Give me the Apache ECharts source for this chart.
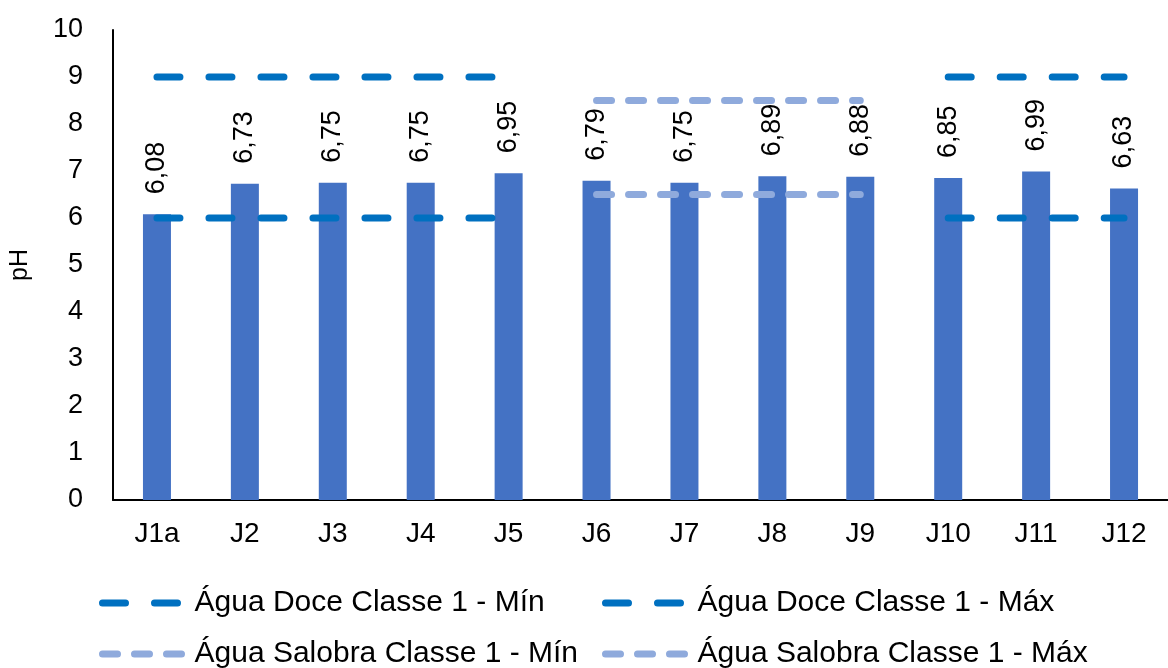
<!DOCTYPE html>
<html>
<head>
<meta charset="utf-8">
<script src="https://cdn.jsdelivr.net/npm/echarts@6/dist/echarts.min.js"></script>
<style>
  html, body { margin: 0; padding: 0; background: #fff; }
  #main { width: 1168px; height: 668px; }
</style>
</head>
<body>
<div id="main"></div>
<script>
// pontos de coleta
var pontos = ["J1a", "J2", "J3", "J4", "J5", "J6", "J7", "J8", "J9", "J10", "J11", "J12"];
// pH medido
var ph = [6.08, 6.73, 6.75, 6.75, 6.95, 6.79, 6.75, 6.89, 6.88, 6.85, 6.99, 6.63];
// limites CONAMA
var doceMin = [6, 6, 6, 6, 6, null, null, null, null, 6, 6, 6];
var doceMax = [9, 9, 9, 9, 9, null, null, null, null, 9, 9, 9];
var salobraMin = [null, null, null, null, null, 6.5, 6.5, 6.5, 6.5, null, null, null];
var salobraMax = [null, null, null, null, null, 8.5, 8.5, 8.5, 8.5, null, null, null];
var nomes = ["Água Doce Classe 1 - Mín", "Água Doce Classe 1 - Máx", "Água Salobra Classe 1 - Mín", "Água Salobra Classe 1 - Máx"];

var fonte = "Liberation Sans, Arial, sans-serif";
var azulDoce = "#0070C0";
var azulSalobra = "#8FAADC";

var estiloDoce = { color: azulDoce, width: 7, type: [23, 29], cap: "round" };
var estiloSalobra = { color: azulSalobra, width: 7, type: [15, 17], cap: "round" };

function linha(nome, dados, estilo) {
  return {
    name: nome,
    type: "line",
    data: dados,
    symbol: "none",
    color: estilo.color,
    lineStyle: estilo,
    z: 5,
  };
}

function legenda(nome, left, top, estilo) {
  return {
    left: left,
    top: top,
    padding: 0,
    itemWidth: 80,
    itemHeight: 14,
    data: [{ name: nome }],
    itemStyle: { opacity: 0 },
    lineStyle: { width: 7, type: estilo.type, cap: "round" },
    textStyle: { fontFamily: fonte, fontSize: 30, color: "#000", padding: [0, 0, 0, 7] },
    selectedMode: false,
  };
}

var option = {
  animation: false,
  grid: { left: 112, top: 30, width: 1066, bottom: 168 },
  legend: [
    legenda(nomes[0], 99, 588, estiloDoce),
    legenda(nomes[1], 602, 588, estiloDoce),
    legenda(nomes[2], 99, 639, estiloSalobra),
    legenda(nomes[3], 602, 639, estiloSalobra),
  ],
  xAxis: {
    type: "category",
    data: pontos,
    axisLine: { lineStyle: { color: "#000", width: 2 } },
    axisTick: { show: false },
    axisLabel: { fontFamily: fonte, fontSize: 28, color: "#000", margin: 20 },
  },
  yAxis: {
    type: "value",
    min: 0,
    max: 10,
    interval: 1,
    name: "pH",
    nameLocation: "middle",
    nameGap: 80,
    nameTextStyle: { fontFamily: fonte, fontSize: 25, color: "#000" },
    axisLine: { show: true, lineStyle: { color: "#000", width: 2 } },
    axisTick: { show: false },
    splitLine: { show: false },
    axisLabel: { fontFamily: fonte, fontSize: 27, color: "#000", margin: 30 },
  },
  series: [
    {
      name: "pH",
      type: "bar",
      data: ph,
      barWidth: 28,
      color: "#4472C4",
      label: {
        show: true,
        position: "top",
        rotate: 90,
        align: "left",
        verticalAlign: "middle",
        distance: 20,
        fontFamily: fonte,
        fontSize: 27,
        color: "#000",
        formatter: function (p) {
          return p.value.toFixed(2).replace(".", ",");
        },
      },
    },
    linha(nomes[0], doceMin, estiloDoce),
    linha(nomes[1], doceMax, estiloDoce),
    linha(nomes[2], salobraMin, estiloSalobra),
    linha(nomes[3], salobraMax, estiloSalobra),
  ],
};

var myChart = echarts.init(document.getElementById("main"));
myChart.setOption(option);
</script>
</body>
</html>
